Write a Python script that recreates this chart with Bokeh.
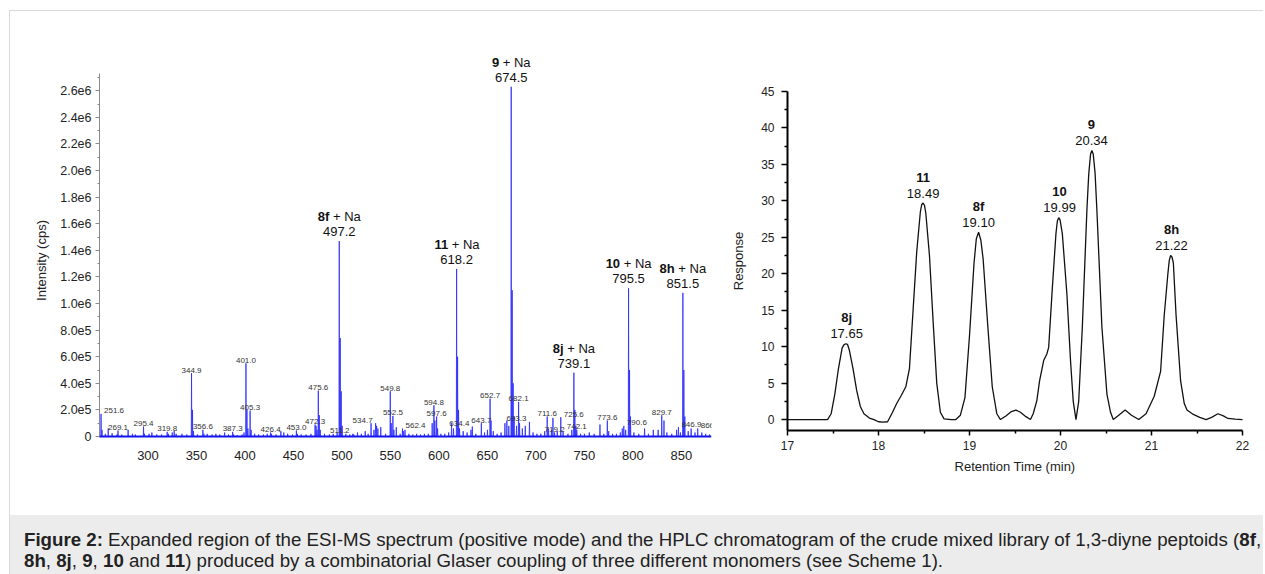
from bokeh.plotting import figure
from bokeh.models import FixedTicker, Span, Div, Range1d, ColumnDataSource, LabelSet
from bokeh.layouts import row, column
from bokeh.core.properties import value
from bokeh.embed import file_html
from bokeh.resources import INLINE

FONT = "Liberation Sans"

# ---------------- ESI-MS spectrum (m/z, intensity in cps) ----------------
ms_mz = [
    251.6, 252.6, 256.0, 259.0, 263.0, 268.0, 269.1, 273.0, 279.5, 284.0, 287.0,
    295.4, 296.4, 301.0, 304.0, 309.0, 314.0, 319.8, 321.0, 325.0, 327.0, 329.0, 335.0, 340.0,
    344.9, 345.9, 346.9, 351.0, 356.6, 357.6, 361.0, 366.0, 370.0, 374.0, 379.0, 383.0,
    387.3, 388.3, 392.0, 397.0, 399.0, 401.0, 402.0, 403.0, 405.3, 406.3, 410.0, 414.0, 419.0, 423.0,
    426.4, 427.4, 432.0, 437.0, 440.0, 444.0, 449.0, 453.0, 454.0, 458.0, 463.0, 468.0,
    472.3, 473.3, 474.3, 475.6, 476.6, 477.6, 482.0, 487.0, 491.0, 495.0,
    497.2, 498.2, 499.2, 500.2, 504.0, 508.0, 511.2, 512.2, 516.0, 520.0, 524.0, 527.0, 530.0, 533.0,
    534.7, 535.7, 537.0, 540.0, 545.0, 549.8, 550.8, 552.5, 553.5, 556.0, 560.0, 562.4, 563.4, 565.0, 569.0, 573.0, 577.0, 581.0, 585.0, 589.0,
    593.0, 594.8, 595.8, 597.6, 598.6, 602.0, 606.0, 610.0, 613.0, 615.0,
    618.2, 619.2, 620.2, 621.2, 625.0, 629.0, 633.0, 634.4, 638.0, 643.7, 647.0, 650.0, 652.7, 653.7, 656.0, 660.0, 664.0, 668.0, 670.0, 672.0,
    674.5, 675.5, 676.5, 677.5, 680.0, 682.1, 683.1, 686.0, 689.0, 693.3, 697.0, 701.0, 705.0, 709.0,
    711.6, 713.0, 716.0, 717.5, 719.2, 722.0, 725.6, 728.0, 733.0, 737.0, 739.1, 740.1, 741.1, 742.1, 746.0, 750.0, 755.0, 760.0, 766.0, 770.0,
    773.6, 775.0, 779.0, 783.0, 787.0, 789.0, 790.6, 792.5, 795.5, 796.5, 797.5, 801.0, 806.0, 812.0, 816.0, 821.0, 826.0,
    829.7, 832.0, 835.0, 840.0, 845.0, 846.9, 849.0, 851.5, 852.5, 853.5, 857.0, 860.0, 864.0, 866.8, 871.0, 875.0, 879.0,
]
ms_int = [
    1.7e5, 5e4, 2e4, 6e4, 2.5e4, 1.5e4, 4.5e4, 1.5e4, 5e4, 2e4, 1.5e4,
    7.5e4, 2e4, 2e4, 3e4, 1.5e4, 1.5e4, 3.5e4, 2e4, 3e4, 4e4, 2e4, 2e4, 1.5e4,
    4.76e5, 2.0e5, 4e4, 1.5e4, 5e4, 2e4, 2e4, 1.5e4, 2e4, 1.5e4, 3e4, 1.5e4,
    3.5e4, 1.5e4, 1e4, 1.5e4, 3e4, 5.5e5, 2.0e5, 6e4, 1.95e5, 5e4, 2e4, 1.5e4, 1.5e4, 2e4,
    3e4, 2e4, 1.5e4, 4e4, 3e4, 2e4, 1.5e4, 4.5e4, 2e4, 1.5e4, 1.5e4, 2e4,
    9e4, 8e4, 5e4, 3.45e5, 1.6e5, 5e4, 2e4, 1.5e4, 2e4, 3e4,
    1.47e6, 7.4e5, 3.4e5, 8e4, 2e4, 1.5e4, 2e4, 1.5e4, 3e4, 2e4, 4e4, 2e4, 1.0e5, 5e4,
    1.0e5, 8e4, 6e4, 7e4, 2e4, 3.4e5, 1.0e5, 1.55e5, 5e4, 7e4, 2e4, 6e4, 4e4, 5e4, 2e4, 1.5e4, 2e4, 1.5e4, 2e4, 2e4,
    1.0e5, 2.35e5, 1.2e5, 1.5e5, 6e4, 2e4, 2e4, 3e4, 1.0e5, 6e4,
    1.26e6, 6.0e5, 2.0e5, 6e4, 4e4, 3e4, 5e4, 7.5e4, 2e4, 1.0e5, 3e4, 5e4, 2.85e5, 1.2e5, 4e4, 2e4, 3e4, 1.0e5, 1.2e5, 8e4,
    2.63e6, 1.1e6, 4.0e5, 1.5e5, 8e4, 2.6e5, 1.0e5, 6e4, 8e4, 1.1e5, 3e4, 2e4, 2e4, 4e4,
    1.5e5, 6e4, 5e4, 1.4e5, 3e4, 4e4, 1.45e5, 4e4, 2e4, 5e4, 4.8e5, 2.0e5, 8e4, 5e4, 2e4, 2e4, 3e4, 2e4, 9e4, 2e4,
    1.2e5, 4e4, 2e4, 2e4, 3e4, 6e4, 8e4, 5e4, 1.115e6, 5.0e5, 1.5e5, 3e4, 2e4, 6e4, 2e4, 5e4, 5e4,
    1.6e5, 1.2e5, 3e4, 2e4, 5e4, 7e4, 3e4, 1.08e6, 5.0e5, 1.5e5, 4e4, 6e4, 3e4, 6e4, 3e4, 2e4, 1.5e4,
]

# annotated [M+Na]+ ions
major_names = ["8f", "11", "9", "8j", "10", "8h"]
major_mz = [497.2, 618.2, 674.5, 739.1, 795.5, 851.5]

# smaller annotated peaks
small_label_mz = [251.6, 269.1, 295.4, 319.8, 344.9, 356.6, 387.3, 401.0, 405.3, 426.4,
                  453.0, 472.3, 475.6, 511.2, 534.7, 549.8, 552.5, 562.4, 594.8, 597.6,
                  634.4, 643.7, 652.7, 682.1, 693.3, 711.6, 719.2, 725.6, 742.1, 773.6,
                  790.6, 829.7, 846.9, 866.8]
label_leader_right = [251.6, 562.4, 725.6, 790.6, 846.9, 866.8]
label_leader_left = [511.2, 534.7, 634.4, 693.3]

ms_yticks = [0, 200000, 400000, 600000, 800000, 1000000, 1200000, 1400000,
             1600000, 1800000, 2000000, 2200000, 2400000, 2600000]
ms_ytick_labels = ["0", "2.0e5", "4.0e5", "6.0e5", "8.0e5", "1.0e6", "1.2e6", "1.4e6",
                   "1.6e6", "1.8e6", "2.0e6", "2.2e6", "2.4e6", "2.6e6"]
ms_xticks = [300, 350, 400, 450, 500, 550, 600, 650, 700, 750, 800, 850]

# ---------------- HPLC chromatogram ----------------
hplc_time = [17.00, 17.44, 17.48, 17.52, 17.56, 17.60, 17.62, 17.64, 17.66, 17.68,
             17.72, 17.76, 17.80, 17.84, 17.90, 17.95, 18.00, 18.05, 18.10, 18.15,
             18.20, 18.25, 18.30, 18.34, 18.38, 18.42, 18.46, 18.475, 18.49, 18.505,
             18.52, 18.56, 18.60, 18.64, 18.68, 18.72, 18.80, 18.85, 18.90, 18.95,
             19.00, 19.05, 19.075, 19.10, 19.125, 19.15, 19.20, 19.25, 19.30, 19.34,
             19.40, 19.46, 19.51, 19.56, 19.62, 19.67, 19.70, 19.74, 19.77, 19.815,
             19.85, 19.87, 19.91, 19.95, 19.965, 19.98, 19.995, 20.02, 20.07, 20.11,
             20.14, 20.17, 20.20, 20.24, 20.29, 20.31, 20.33, 20.345, 20.36, 20.38,
             20.40, 20.455, 20.51, 20.55, 20.58, 20.64, 20.71, 20.78, 20.86, 20.94,
             21.03, 21.10, 21.14, 21.18, 21.195, 21.21, 21.225, 21.24, 21.27, 21.32,
             21.36, 21.39, 21.46, 21.53, 21.60, 21.66, 21.73, 21.79, 21.84, 21.92,
             22.00]
hplc_resp = [0, 0, 0.8, 3.5, 7.0, 9.8, 10.25, 10.4, 10.3, 9.5,
             7.0, 4.0, 1.8, 0.8, 0.2, 0.0, -0.3, -0.35, -0.3, 0.9,
             2.2, 3.3, 4.5, 7.0, 15.0, 23.0, 28.5, 29.5, 29.7, 29.4,
             28.3, 22.5, 13.5, 5.0, 1.0, 0.1, 0.0, 0.0, 0.6, 3.0,
             11.5, 21.5, 24.8, 25.7, 24.6, 22.0, 13.0, 4.5, 0.8, 0.0,
             0.5, 1.1, 1.3, 1.0, 0.4, 0.0, 0.8, 2.6, 5.3, 8.1,
             9.0, 9.9, 18.0, 25.5, 27.2, 27.7, 27.4, 25.5, 17.3, 8.1,
             2.5, 0.0, 2.5, 12.7, 28.7, 33.6, 36.4, 36.9, 36.4, 33.8,
             28.7, 12.7, 3.5, 1.0, 0.0, 0.6, 1.3, 0.6, 0.0, 0.8,
             3.2, 6.6, 14.3, 20.0, 21.8, 22.5, 22.3, 21.5, 14.3, 5.3,
             2.2, 1.3, 0.7, 0.3, 0.0, 0.3, 0.8, 0.5, 0.15, 0.05,
             0.0]

hplc_peak_names = ["8j", "11", "8f", "10", "9", "8h"]
hplc_peak_times = [17.65, 18.49, 19.10, 19.99, 20.34, 21.22]

hplc_yticks = [0, 5, 10, 15, 20, 25, 30, 35, 40, 45]
hplc_xticks = [17, 18, 19, 20, 21, 22]

# ---------------- geometry (page pixels) ----------------
TOP0 = 11            # top of the figures on the page
FIG_H = 504
FRAME_TOP, FRAME_BOT = 40, 480     # shared (aligned) frame extent
MS_AX_TOP, MS_AX_BOT = 73, 437     # where the MS y-axis is drawn
LC_AX_TOP, LC_AX_BOT = 91, 430     # where the HPLC y-axis is drawn
P2_LEFT, P2_W = 730, 533           # page x of the right figure, its width
LC_AX_LEFT, LC_AX_RIGHT = 787, 1242


def extended_range(lo, hi, ax_top, ax_bot):
    k = (hi - lo) / (ax_bot - ax_top)
    return Range1d(lo - (FRAME_BOT - ax_bot) * k, hi + (ax_top - FRAME_TOP) * k)


MS_LO, MS_HI = -7500, 2.73e6
LC_LO, LC_HI = -1.5, 45
T_LO, T_HI = hplc_xticks[0], hplc_xticks[-1]

# ---------------- helpers ----------------
W_NORMAL = {"+": 0.584, " ": 0.278, "N": 0.722, "a": 0.556}
W_BOLD = {"f": 0.333, "h": 0.611, "j": 0.278}


def text_width(s, table, size):
    return sum(table.get(c, 0.556) for c in s) * size


# ---------------- left figure: ESI-MS ----------------
p1 = figure(width=720, height=FIG_H, x_range=Range1d(250, 881),
            y_range=extended_range(MS_LO, MS_HI, MS_AX_TOP, MS_AX_BOT),
            output_backend="svg", toolbar_location=None,
            min_border_left=89, min_border_right=19,
            min_border_top=FRAME_TOP - TOP0, min_border_bottom=TOP0 + FIG_H - FRAME_BOT)
p1.outline_line_color = None
p1.xgrid.grid_line_color = None
p1.ygrid.grid_line_color = None

# profile trace built from the peak list
order = sorted(range(len(ms_mz)), key=lambda i: ms_mz[i])
px, py = [], []
for i in order:
    m, h = ms_mz[i], ms_int[i]
    px += [m - 0.3, m, m + 0.3]
    py += [0, h, 0]
p1.add_layout(Span(location=0, dimension="width", line_color="#1414f0", line_width=2))
p1.line(px, py, line_color="#2a2aff", line_width=0.8)

intensity_of = dict(zip(ms_mz, ms_int))

# small labels
sl_h = [intensity_of[m] for m in small_label_mz]
sl_off = [13 if m in label_leader_right else (-13 if m in label_leader_left else 0) for m in small_label_mz]
small_src = ColumnDataSource(dict(x=small_label_mz, y=sl_h, t=[f"{m:.1f}" for m in small_label_mz], xo=sl_off))
p1.text(x="x", y="y", text="t", x_offset="xo", y_offset=-3, source=small_src,
        text_font=value(FONT), text_font_size="8px", text_color="#333333",
        text_align="center", text_baseline="alphabetic")

# major labels (bold compound + " + Na", then m/z)
FS = 13
mj_h = [intensity_of[m] for m in major_mz]
mj_d = [(text_width(n, W_BOLD, FS) - text_width(" + Na", W_NORMAL, FS)) / 2 for n in major_names]
major_src = ColumnDataSource(dict(x=major_mz, y=mj_h, name=major_names,
                                  na=["+ Na"] * len(major_mz),
                                  num=[f"{m:.1f}" for m in major_mz],
                                  db=mj_d, dn=[d + 0.278 * FS for d in mj_d]))
common = dict(x="x", y="y", source=major_src, text_font=value(FONT),
              text_font_size=f"{FS}px", text_color="#111111", text_baseline="alphabetic")
p1.add_layout(LabelSet(text="name", x_offset="db", y_offset=20, text_align="right",
                       text_font_style="bold", **common))
p1.add_layout(LabelSet(text="na", x_offset="dn", y_offset=20, text_align="left", **common))
p1.add_layout(LabelSet(text="num", y_offset=5, text_align="center", **common))

ya = p1.yaxis[0]
ya.bounds = (MS_LO, MS_HI)
ya.ticker = FixedTicker(ticks=ms_yticks,
                        minor_ticks=[t + 100000 for t in ms_yticks])
ya.major_label_overrides = {t: l for t, l in zip(ms_yticks, ms_ytick_labels)}
ya.axis_line_color = "#8a8a8a"
ya.major_tick_line_color = "#8a8a8a"
ya.minor_tick_line_color = "#8a8a8a"
ya.major_tick_out = 4
ya.major_tick_in = 0
ya.minor_tick_out = 2
ya.minor_tick_in = 0
ya.major_label_standoff = 4
ya.major_label_text_font = FONT
ya.major_label_text_font_size = "12.5px"
ya.major_label_text_color = "#222222"
ya.axis_label = "Intensity (cps)"
ya.axis_label_text_font = FONT
ya.axis_label_text_font_style = "normal"
ya.axis_label_text_font_size = "13px"
ya.axis_label_text_color = "#222222"
ya.axis_label_standoff = 8

xa = p1.xaxis[0]
xa.fixed_location = MS_LO
xa.ticker = FixedTicker(ticks=ms_xticks, minor_ticks=[])
xa.axis_line_color = None
xa.major_tick_line_color = None
xa.minor_tick_line_color = None
xa.major_label_standoff = 7
xa.major_label_text_font = FONT
xa.major_label_text_font_size = "13px"
xa.major_label_text_color = "#222222"

# ---------------- right figure: HPLC ----------------
kx = (T_HI - T_LO) / (LC_AX_RIGHT - LC_AX_LEFT)
p2_xr = Range1d(T_LO - (LC_AX_LEFT - P2_LEFT) * kx, T_HI + (P2_LEFT + P2_W - LC_AX_RIGHT) * kx)
p2 = figure(width=P2_W, height=FIG_H, x_range=p2_xr,
            y_range=extended_range(LC_LO, LC_HI, LC_AX_TOP, LC_AX_BOT),
            output_backend="svg", toolbar_location=None,
            min_border_left=0, min_border_right=0,
            min_border_top=FRAME_TOP - TOP0, min_border_bottom=TOP0 + FIG_H - FRAME_BOT)
p2.outline_line_color = None
p2.xgrid.grid_line_color = None
p2.ygrid.grid_line_color = None
p2.line(hplc_time, hplc_resp, line_color="#111111", line_width=1.3)

pk_h = []
for t in hplc_peak_times:
    pk_h.append(max(r for tt, r in zip(hplc_time, hplc_resp) if abs(tt - t) <= 0.06))
pk_src = ColumnDataSource(dict(x=hplc_peak_times, y=pk_h, name=hplc_peak_names,
                               num=[f"{t:.2f}" for t in hplc_peak_times]))
p2.text(x="x", y="y", text="name", y_offset=-26, source=pk_src,
        text_font=value(FONT), text_font_size="13px", text_font_style="bold",
        text_color="#111111", text_align="center", text_baseline="alphabetic")
p2.text(x="x", y="y", text="num", y_offset=-10, source=pk_src,
        text_font=value(FONT), text_font_size="13px",
        text_color="#111111", text_align="center", text_baseline="alphabetic")

for ax, ticks, step in ((p2.yaxis[0], hplc_yticks, 2.5), (p2.xaxis[0], hplc_xticks, 0.5)):
    ax.ticker = FixedTicker(ticks=ticks, minor_ticks=[t + step for t in ticks[:-1]])
    ax.axis_line_color = "#000000"
    ax.axis_line_width = 2
    ax.major_tick_line_color = "#000000"
    ax.minor_tick_line_color = "#000000"
    ax.major_tick_line_width = 1.5
    ax.minor_tick_line_width = 1.5
    ax.major_tick_in = 0
    ax.minor_tick_in = 0
    ax.major_label_text_font = FONT
    ax.major_label_text_font_size = "12px"
    ax.major_label_text_color = "#222222"
    ax.axis_label_text_font = FONT
    ax.axis_label_text_font_style = "normal"
    ax.axis_label_text_font_size = "13px"
    ax.axis_label_text_color = "#222222"

p2.yaxis[0].fixed_location = T_LO
p2.yaxis[0].bounds = (LC_LO, LC_HI)
p2.yaxis[0].major_tick_out = 6
p2.yaxis[0].minor_tick_out = 3
p2.yaxis[0].major_label_standoff = 7
p2.yaxis[0].axis_label = "Response"
p2.yaxis[0].axis_label_standoff = 12
p2.xaxis[0].fixed_location = LC_LO
p2.xaxis[0].bounds = (T_LO, T_HI)
p2.xaxis[0].major_tick_out = 5
p2.xaxis[0].minor_tick_out = 3
p2.xaxis[0].major_label_standoff = 5
p2.xaxis[0].axis_label = "Retention Time (min)"
p2.xaxis[0].axis_label_standoff = 6

# ---------------- caption ----------------
caption_html = (
    '<div style="font-family:\'Liberation Sans\',Arial,sans-serif;font-size:18.7px;line-height:21px;'
    'color:#222;background:#ececec;width:1253px;height:59px;box-sizing:border-box;'
    'padding:14px 0 0 14px;white-space:nowrap;overflow:hidden;">'
    '<b>Figure 2:</b> Expanded region of the ESI-MS spectrum (positive mode) and the HPLC chromatogram '
    'of the crude mixed library of 1,3-diyne peptoids (<b>8f</b>,<br>'
    '<b>8h</b>, <b>8j</b>, <b>9</b>, <b>10</b> and <b>11</b>) produced by a combinatorial Glaser coupling '
    'of three different monomers (see Scheme 1).</div>'
)
cap = Div(text=caption_html, width=1253, height=59, margin=(0, 0, 0, 0))

layout = column(row(p1, p2), cap,
                styles={"border-top": "1px solid #dadada", "border-left": "1px solid #dadada",
                        "margin-top": "10px", "margin-left": "9px"})

open("out.html", "w").write(file_html(layout, INLINE))
